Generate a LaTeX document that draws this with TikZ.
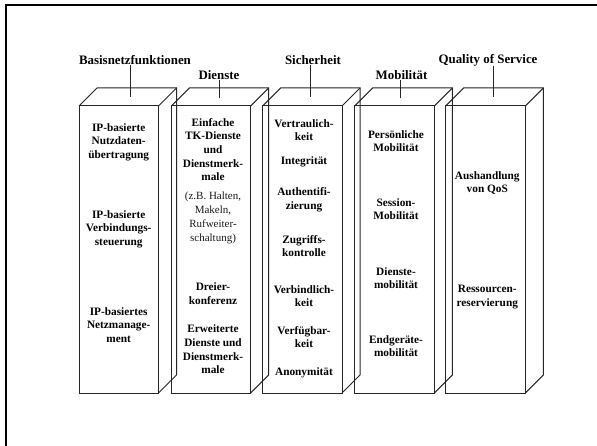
\documentclass[tikz,border=0pt]{standalone}
\usepackage{fontspec}
\setmainfont{Liberation Serif}
\tikzset{
  x=1pt,y=-1pt,
  frameline/.style={black,line width=2pt},
  boxline/.style={draw=black!85!white,line width=1pt,line join=miter},
  lbl/.style={align=center,font=\bfseries\fontsize{11.3}{13.6}\selectfont,inner sep=0pt,text=black},
  note/.style={align=center,font=\fontsize{11}{14}\selectfont,inner sep=0pt,text=black!90},
  head/.style={font=\bfseries\fontsize{12.9}{13}\selectfont,inner sep=0pt,text=black},
  leader/.style={draw=black!85!white,line width=1pt}
}
\newcommand{\pillar}[3]{% left, right, name
  \coordinate (#3ft) at (#1,106);
  \coordinate (#3fr) at (#2,106);
  \coordinate (#3br) at (#2,393);
  \coordinate (#3bl) at (#1,393);
  \coordinate (#3tl) at (#1+18,88);
  \coordinate (#3tr) at (#2+18,88);
  \coordinate (#3lr) at (#2+18,375);
  \draw[boxline] (#3ft) -- (#3fr) -- (#3br) -- (#3bl) -- cycle;
  \draw[boxline] (#3ft) -- (#3tl) -- (#3tr) -- (#3lr) -- (#3br);
  \draw[boxline] (#3fr) -- (#3tr);
}
\begin{document}
\begin{tikzpicture}
\useasboundingbox (0,0) rectangle (597,446);
\coordinate (fa) at (6,446);
\coordinate (fb) at (6,5.3);
\coordinate (fc) at (597,5.3);
\draw[frameline] (fa) -- (fb) -- (fc);
\pillar{79}{158.5}{a}
\pillar{171.3}{250.7}{b}
\pillar{262.7}{342}{c}
\pillar{354.7}{434.3}{d}
\pillar{445.7}{525.3}{e}
\node[head] (h1) at (135,60) {Basisnetzfunktionen};
\node[head] (h2) at (219,75) {Dienste};
\node[head] (h3) at (313,60) {Sicherheit};
\node[head] (h4) at (401.5,75) {Mobilität};
\node[head] (h5) at (488,60) {Quality of Service};
\coordinate (l1) at (130,97);
\coordinate (l2) at (219,98);
\coordinate (l3) at (310,97);
\coordinate (l4) at (400,98);
\coordinate (l5) at (493,97);
\draw[leader] (h1.south -| l1) -- (l1);
\draw[leader] (h2.south -| l2) -- (l2);
\draw[leader] (h3.south -| l3) -- (l3);
\draw[leader] (h4.south -| l4) -- (l4);
\draw[leader] (h5.south -| l5) -- (l5);
\node[lbl] (a1) at (118.7,142) {IP-basierte\\Nutzdaten-\\übertragung};
\node[lbl] (a2) at (118.7,229) {IP-basierte\\Verbindungs-\\steuerung};
\node[lbl] (a3) at (118.7,325) {IP-basiertes\\Netzmanage-\\ment};
\node[lbl] (b1) at (213,149.5) {Einfache\\TK-Dienste\\und\\Dienstmerk-\\male};
\node[note] (b2) at (213,218) {(z.B. Halten,\\Makeln,\\Rufweiter-\\schaltung)};
\node[lbl] (b3) at (213,293.5) {Dreier-\\konferenz};
\node[lbl] (b4) at (213,349.5) {Erweiterte\\Dienste und\\Dienstmerk-\\male};
\node[lbl] (c1) at (304,130) {Vertraulich-\\keit};
\node[lbl] (c2) at (304,162) {Integrität};
\node[lbl] (c3) at (304,200) {Authentifi-\\zierung};
\node[lbl] (c4) at (304,246) {Zugriffs-\\kontrolle};
\node[lbl] (c5) at (304,296) {Verbindlich-\\keit};
\node[lbl] (c6) at (304,337) {Verfügbar-\\keit};
\node[lbl] (c7) at (304,373) {Anonymität};
\node[lbl] (d1) at (396,141) {Persönliche\\Mobilität};
\node[lbl] (d2) at (396,209) {Session-\\Mobilität};
\node[lbl] (d3) at (396,278) {Dienste-\\mobilität};
\node[lbl] (d4) at (396,346) {Endgeräte-\\mobilität};
\node[lbl] (e1) at (487.3,183) {Aushandlung\\von QoS};
\node[lbl] (e2) at (487.3,297) {Ressourcen-\\reservierung};
\end{tikzpicture}
\end{document}
